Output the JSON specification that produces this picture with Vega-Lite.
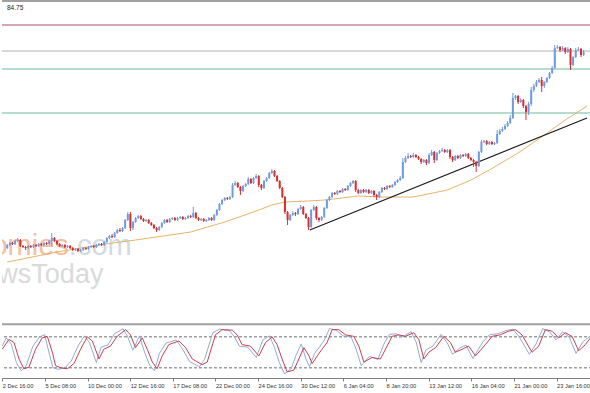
{
  "$schema": "https://vega.github.io/schema/vega-lite/v6.json",
  "padding": 0,
  "background": "white",
  "spacing": 3,
  "config": {"view": {"stroke": null}, "font": "Liberation Sans"},
  "datasets": {
    "bars": [
      {"i":0,"o":82,"h":86,"l":81,"c":85},{"i":1,"o":85,"h":88,"l":84,"c":87},{"i":2,"o":87,"h":88,"l":85,"c":86},{"i":3,"o":86,"h":90,"l":85,"c":89},{"i":4,"o":89,"h":92,"l":88,"c":90},{"i":5,"o":90,"h":91,"l":83,"c":84},{"i":6,"o":84,"h":85,"l":82,"c":83},{"i":7,"o":83,"h":84,"l":80,"c":82},{"i":8,"o":82,"h":85,"l":81,"c":84},{"i":9,"o":84,"h":85,"l":82,"c":83},
      {"i":10,"o":83,"h":86,"l":82,"c":85},{"i":11,"o":85,"h":86,"l":83,"c":84},{"i":12,"o":84,"h":87,"l":83,"c":86},{"i":13,"o":86,"h":87,"l":84,"c":85},{"i":14,"o":85,"h":88,"l":84,"c":87},{"i":15,"o":87,"h":88,"l":85,"c":86},{"i":16,"o":86,"h":90,"l":85,"c":89},{"i":17,"o":89,"h":97,"l":84,"c":92},{"i":18,"o":92,"h":93,"l":88,"c":89},{"i":19,"o":89,"h":90,"l":85,"c":86},
      {"i":20,"o":86,"h":87,"l":83,"c":84},{"i":21,"o":84,"h":86,"l":83,"c":85},{"i":22,"o":85,"h":86,"l":82,"c":83},{"i":23,"o":83,"h":85,"l":82,"c":84},{"i":24,"o":84,"h":85,"l":81,"c":82},{"i":25,"o":82,"h":83,"l":79,"c":80},{"i":26,"o":80,"h":82,"l":79,"c":81},{"i":27,"o":81,"h":82,"l":78,"c":79},{"i":28,"o":79,"h":81,"l":78,"c":80},{"i":29,"o":80,"h":83,"l":79,"c":82},
      {"i":30,"o":82,"h":83,"l":80,"c":81},{"i":31,"o":81,"h":84,"l":80,"c":83},{"i":32,"o":83,"h":85,"l":82,"c":84},{"i":33,"o":84,"h":85,"l":82,"c":83},{"i":34,"o":83,"h":86,"l":82,"c":85},{"i":35,"o":85,"h":87,"l":84,"c":86},{"i":36,"o":86,"h":87,"l":84,"c":85},{"i":37,"o":85,"h":89,"l":84,"c":88},{"i":38,"o":88,"h":93,"l":87,"c":92},{"i":39,"o":92,"h":95,"l":91,"c":94},
      {"i":40,"o":94,"h":96,"l":92,"c":93},{"i":41,"o":93,"h":98,"l":92,"c":97},{"i":42,"o":97,"h":101,"l":96,"c":100},{"i":43,"o":100,"h":102,"l":98,"c":99},{"i":44,"o":99,"h":103,"l":98,"c":102},{"i":45,"o":102,"h":111,"l":101,"c":110},{"i":46,"o":110,"h":118,"l":109,"c":116},{"i":47,"o":116,"h":118,"l":99,"c":102},{"i":48,"o":102,"h":109,"l":100,"c":108},{"i":49,"o":108,"h":113,"l":107,"c":112},
      {"i":50,"o":112,"h":115,"l":111,"c":114},{"i":51,"o":114,"h":115,"l":110,"c":111},{"i":52,"o":111,"h":112,"l":108,"c":109},{"i":53,"o":109,"h":111,"l":108,"c":110},{"i":54,"o":110,"h":111,"l":106,"c":107},{"i":55,"o":107,"h":108,"l":104,"c":105},{"i":56,"o":105,"h":106,"l":101,"c":102},{"i":57,"o":102,"h":103,"l":98,"c":100},{"i":58,"o":100,"h":104,"l":99,"c":103},{"i":59,"o":103,"h":108,"l":102,"c":107},
      {"i":60,"o":107,"h":111,"l":106,"c":110},{"i":61,"o":110,"h":111,"l":107,"c":108},{"i":62,"o":108,"h":112,"l":107,"c":111},{"i":63,"o":111,"h":113,"l":110,"c":112},{"i":64,"o":112,"h":113,"l":109,"c":110},{"i":65,"o":110,"h":113,"l":109,"c":112},{"i":66,"o":112,"h":114,"l":111,"c":113},{"i":67,"o":113,"h":114,"l":110,"c":111},{"i":68,"o":111,"h":113,"l":110,"c":112},{"i":69,"o":112,"h":115,"l":111,"c":114},
      {"i":70,"o":114,"h":115,"l":112,"c":113},{"i":71,"o":113,"h":123,"l":112,"c":117},{"i":72,"o":117,"h":118,"l":111,"c":112},{"i":73,"o":112,"h":113,"l":109,"c":110},{"i":74,"o":110,"h":112,"l":109,"c":111},{"i":75,"o":111,"h":112,"l":108,"c":109},{"i":76,"o":109,"h":111,"l":108,"c":110},{"i":77,"o":110,"h":113,"l":109,"c":112},{"i":78,"o":112,"h":113,"l":109,"c":110},{"i":79,"o":110,"h":116,"l":109,"c":115},
      {"i":80,"o":115,"h":121,"l":114,"c":120},{"i":81,"o":120,"h":127,"l":119,"c":126},{"i":82,"o":126,"h":131,"l":125,"c":130},{"i":83,"o":130,"h":133,"l":129,"c":132},{"i":84,"o":132,"h":133,"l":130,"c":131},{"i":85,"o":131,"h":134,"l":130,"c":133},{"i":86,"o":133,"h":147,"l":132,"c":145},{"i":87,"o":145,"h":149,"l":144,"c":147},{"i":88,"o":147,"h":148,"l":142,"c":143},{"i":89,"o":143,"h":144,"l":135,"c":139},
      {"i":90,"o":139,"h":145,"l":138,"c":144},{"i":91,"o":144,"h":147,"l":143,"c":146},{"i":92,"o":146,"h":153,"l":145,"c":151},{"i":93,"o":151,"h":152,"l":146,"c":147},{"i":94,"o":147,"h":153,"l":146,"c":152},{"i":95,"o":152,"h":156,"l":151,"c":154},{"i":96,"o":154,"h":155,"l":143,"c":145},{"i":97,"o":145,"h":146,"l":140,"c":142},{"i":98,"o":142,"h":150,"l":141,"c":149},{"i":99,"o":149,"h":153,"l":148,"c":152},
      {"i":100,"o":152,"h":158,"l":151,"c":157},{"i":101,"o":157,"h":161,"l":156,"c":159},{"i":102,"o":159,"h":160,"l":153,"c":154},{"i":103,"o":154,"h":155,"l":148,"c":149},{"i":104,"o":149,"h":150,"l":141,"c":142},{"i":105,"o":142,"h":143,"l":132,"c":133},{"i":106,"o":133,"h":134,"l":116,"c":118},{"i":107,"o":118,"h":119,"l":105,"c":110},{"i":108,"o":110,"h":116,"l":109,"c":115},{"i":109,"o":115,"h":119,"l":114,"c":117},
      {"i":110,"o":117,"h":118,"l":114,"c":116},{"i":111,"o":116,"h":122,"l":115,"c":121},{"i":112,"o":121,"h":125,"l":120,"c":123},{"i":113,"o":123,"h":124,"l":115,"c":116},{"i":114,"o":116,"h":117,"l":111,"c":112},{"i":115,"o":112,"h":113,"l":100,"c":103},{"i":116,"o":103,"h":121,"l":102,"c":120},{"i":117,"o":120,"h":125,"l":119,"c":123},{"i":118,"o":123,"h":124,"l":110,"c":112},{"i":119,"o":112,"h":113,"l":108,"c":110},
      {"i":120,"o":110,"h":114,"l":109,"c":113},{"i":121,"o":113,"h":123,"l":112,"c":122},{"i":122,"o":122,"h":131,"l":121,"c":130},{"i":123,"o":130,"h":134,"l":129,"c":133},{"i":124,"o":133,"h":138,"l":132,"c":137},{"i":125,"o":137,"h":138,"l":135,"c":136},{"i":126,"o":136,"h":140,"l":135,"c":139},{"i":127,"o":139,"h":140,"l":137,"c":138},{"i":128,"o":138,"h":142,"l":137,"c":141},{"i":129,"o":141,"h":142,"l":139,"c":140},
      {"i":130,"o":140,"h":145,"l":139,"c":144},{"i":131,"o":144,"h":148,"l":143,"c":147},{"i":132,"o":147,"h":150,"l":146,"c":149},{"i":133,"o":149,"h":150,"l":138,"c":140},{"i":134,"o":140,"h":141,"l":136,"c":137},{"i":135,"o":137,"h":141,"l":136,"c":140},{"i":136,"o":140,"h":141,"l":137,"c":138},{"i":137,"o":138,"h":141,"l":137,"c":140},{"i":138,"o":140,"h":141,"l":136,"c":137},{"i":139,"o":137,"h":140,"l":136,"c":139},
      {"i":140,"o":139,"h":140,"l":133,"c":135},{"i":141,"o":135,"h":136,"l":130,"c":133},{"i":142,"o":133,"h":139,"l":132,"c":138},{"i":143,"o":138,"h":143,"l":137,"c":142},{"i":144,"o":142,"h":143,"l":140,"c":141},{"i":145,"o":141,"h":145,"l":140,"c":144},{"i":146,"o":144,"h":145,"l":142,"c":143},{"i":147,"o":143,"h":146,"l":142,"c":145},{"i":148,"o":145,"h":149,"l":144,"c":148},{"i":149,"o":148,"h":151,"l":147,"c":150},
      {"i":150,"o":150,"h":154,"l":149,"c":152},{"i":151,"o":152,"h":172,"l":151,"c":168},{"i":152,"o":168,"h":174,"l":167,"c":172},{"i":153,"o":172,"h":177,"l":171,"c":174},{"i":154,"o":174,"h":175,"l":172,"c":173},{"i":155,"o":173,"h":177,"l":172,"c":175},{"i":156,"o":175,"h":176,"l":172,"c":173},{"i":157,"o":173,"h":174,"l":170,"c":171},{"i":158,"o":171,"h":172,"l":166,"c":168},{"i":159,"o":168,"h":171,"l":167,"c":170},
      {"i":160,"o":170,"h":171,"l":165,"c":167},{"i":161,"o":167,"h":177,"l":166,"c":175},{"i":162,"o":175,"h":180,"l":174,"c":178},{"i":163,"o":178,"h":179,"l":167,"c":170},{"i":164,"o":170,"h":178,"l":169,"c":177},{"i":165,"o":177,"h":180,"l":176,"c":179},{"i":166,"o":179,"h":182,"l":178,"c":180},{"i":167,"o":180,"h":181,"l":177,"c":178},{"i":168,"o":178,"h":181,"l":177,"c":180},{"i":169,"o":180,"h":181,"l":171,"c":173},
      {"i":170,"o":173,"h":174,"l":168,"c":170},{"i":171,"o":170,"h":175,"l":169,"c":174},{"i":172,"o":174,"h":175,"l":171,"c":172},{"i":173,"o":172,"h":176,"l":171,"c":175},{"i":174,"o":175,"h":176,"l":173,"c":174},{"i":175,"o":174,"h":177,"l":173,"c":176},{"i":176,"o":176,"h":177,"l":171,"c":172},{"i":177,"o":172,"h":173,"l":169,"c":170},{"i":178,"o":170,"h":171,"l":163,"c":168},{"i":179,"o":168,"h":169,"l":158,"c":164},
      {"i":180,"o":164,"h":179,"l":163,"c":178},{"i":181,"o":178,"h":190,"l":177,"c":188},{"i":182,"o":188,"h":190,"l":187,"c":189},{"i":183,"o":189,"h":190,"l":185,"c":186},{"i":184,"o":186,"h":189,"l":185,"c":188},{"i":185,"o":188,"h":189,"l":185,"c":186},{"i":186,"o":186,"h":188,"l":185,"c":187},{"i":187,"o":187,"h":200,"l":186,"c":196},{"i":188,"o":196,"h":201,"l":195,"c":199},{"i":189,"o":199,"h":203,"l":198,"c":201},
      {"i":190,"o":201,"h":206,"l":200,"c":204},{"i":191,"o":204,"h":209,"l":203,"c":207},{"i":192,"o":207,"h":215,"l":206,"c":212},{"i":193,"o":212,"h":237,"l":211,"c":232},{"i":194,"o":232,"h":235,"l":230,"c":234},{"i":195,"o":234,"h":235,"l":226,"c":228},{"i":196,"o":228,"h":232,"l":227,"c":230},{"i":197,"o":230,"h":231,"l":222,"c":224},{"i":198,"o":224,"h":225,"l":210,"c":218},{"i":199,"o":218,"h":228,"l":215,"c":226},
      {"i":200,"o":226,"h":243,"l":224,"c":240},{"i":201,"o":240,"h":246,"l":238,"c":244},{"i":202,"o":244,"h":250,"l":243,"c":248},{"i":203,"o":248,"h":252,"l":247,"c":250},{"i":204,"o":250,"h":253,"l":238,"c":244},{"i":205,"o":244,"h":249,"l":242,"c":248},{"i":206,"o":248,"h":253,"l":247,"c":252},{"i":207,"o":252,"h":258,"l":251,"c":257},{"i":208,"o":257,"h":264,"l":256,"c":262},{"i":209,"o":262,"h":285,"l":261,"c":282},
      {"i":210,"o":282,"h":285,"l":281,"c":283},{"i":211,"o":283,"h":284,"l":278,"c":280},{"i":212,"o":280,"h":284,"l":279,"c":282},{"i":213,"o":282,"h":283,"l":276,"c":278},{"i":214,"o":278,"h":283,"l":277,"c":281},{"i":215,"o":281,"h":282,"l":260,"c":265},{"i":216,"o":265,"h":274,"l":264,"c":273},{"i":217,"o":273,"h":282,"l":272,"c":280},{"i":218,"o":280,"h":283,"l":279,"c":281},{"i":219,"o":281,"h":282,"l":273,"c":275},
      {"i":220,"o":275,"h":280,"l":274,"c":278}
    ],
    "ma": [
      {"i":0,"m":68},{"i":19,"m":78},{"i":37.5,"m":86},{"i":49,"m":90},{"i":57,"m":93},{"i":70,"m":98},{"i":83,"m":108},{"i":94,"m":118},{"i":101,"m":125},{"i":106,"m":128},{"i":115,"m":129},{"i":121,"m":130},{"i":128,"m":132},{"i":134,"m":134},{"i":143,"m":133},{"i":155,"m":133},{"i":168,"m":140},{"i":177,"m":150},{"i":184,"m":160},{"i":195,"m":177},{"i":205,"m":195},{"i":213,"m":210},{"i":219,"m":220},{"i":221.3,"m":224}
    ],
    "trend": [{"i":115.5,"p":100},{"i":221.3,"p":212}],
    "hlines": [{"p":329,"kind":"frame"},{"p":305,"kind":"r1"},{"p":279,"kind":"bid"},{"p":261,"kind":"s1"},{"p":217,"kind":"s2"}],
    "stochD": [
      {"i":0,"v":56},{"i":2.5,"v":75},{"i":4.4,"v":69},{"i":6.3,"v":37},{"i":8.1,"v":18},{"i":10,"v":21},{"i":12.5,"v":56},{"i":15,"v":78},{"i":16.9,"v":81},{"i":18.8,"v":50},{"i":20,"v":24},{"i":21.9,"v":20},{"i":24.4,"v":18},{"i":26.9,"v":28},{"i":29.4,"v":56},{"i":31.9,"v":80},{"i":33.8,"v":72},{"i":36.3,"v":37},{"i":38.1,"v":56},{"i":40.6,"v":62},{"i":43.1,"v":81},{"i":46.3,"v":94},{"i":48.1,"v":84},{"i":50,"v":59},{"i":52.5,"v":78},{"i":54.4,"v":56},{"i":56.3,"v":31},{"i":58.1,"v":18},{"i":60,"v":43},{"i":62.5,"v":65},{"i":66.3,"v":72},{"i":68.8,"v":59},{"i":71.3,"v":37},{"i":75,"v":26},{"i":76.9,"v":31},{"i":80,"v":84},{"i":82.5,"v":94},{"i":86.3,"v":93},{"i":88.1,"v":84},{"i":90,"v":65},{"i":93.1,"v":62},{"i":96.3,"v":43},{"i":98.8,"v":69},{"i":101.3,"v":80},{"i":103.1,"v":65},{"i":105,"v":37},{"i":106.9,"v":12},{"i":109.4,"v":15},{"i":111.3,"v":37},{"i":113.2,"v":59},{"i":115.1,"v":43},{"i":116.3,"v":28},{"i":118.2,"v":43},{"i":120,"v":56},{"i":121.9,"v":69},{"i":123.8,"v":94},{"i":126.3,"v":94},{"i":128.8,"v":84},{"i":131.9,"v":81},{"i":133.8,"v":62},{"i":135.7,"v":31},{"i":138.8,"v":40},{"i":141.9,"v":37},{"i":144.4,"v":62},{"i":146.3,"v":81},{"i":148.8,"v":84},{"i":151.3,"v":81},{"i":154.4,"v":88},{"i":156.3,"v":75},{"i":158.2,"v":37},{"i":160,"v":50},{"i":162.6,"v":59},{"i":165.7,"v":81},{"i":168.2,"v":69},{"i":170,"v":50},{"i":172.6,"v":56},{"i":175,"v":62},{"i":177.6,"v":43},{"i":181.3,"v":65},{"i":183.8,"v":81},{"i":186.9,"v":84},{"i":190,"v":91},{"i":192.6,"v":94},{"i":195,"v":84},{"i":198.8,"v":50},{"i":201.3,"v":62},{"i":203.8,"v":94},{"i":206.3,"v":91},{"i":208.8,"v":78},{"i":211.3,"v":88},{"i":213.8,"v":81},{"i":216.3,"v":53},{"i":218.8,"v":65},{"i":220.7,"v":78}
    ],
    "stochK": [
      {"i":0,"v":62},{"i":1.5,"v":78},{"i":3.4,"v":66},{"i":5.3,"v":30},{"i":7.1,"v":14},{"i":9,"v":24},{"i":11.5,"v":62},{"i":14,"v":80},{"i":15.9,"v":84},{"i":17.8,"v":44},{"i":19,"v":20},{"i":20.9,"v":17},{"i":23.4,"v":19},{"i":25.9,"v":33},{"i":28.4,"v":62},{"i":30.9,"v":82},{"i":32.8,"v":68},{"i":35.3,"v":30},{"i":37.1,"v":60},{"i":39.6,"v":64},{"i":42.1,"v":86},{"i":45.3,"v":96},{"i":47.1,"v":80},{"i":49,"v":54},{"i":51.5,"v":82},{"i":53.4,"v":50},{"i":55.3,"v":25},{"i":57.1,"v":14},{"i":59,"v":48},{"i":61.5,"v":68},{"i":65.3,"v":74},{"i":67.8,"v":55},{"i":70.3,"v":32},{"i":74,"v":22},{"i":75.9,"v":36},{"i":79,"v":88},{"i":81.5,"v":95},{"i":85.3,"v":92},{"i":87.1,"v":80},{"i":89,"v":62},{"i":92.1,"v":60},{"i":95.3,"v":40},{"i":97.8,"v":74},{"i":100.3,"v":82},{"i":102.1,"v":60},{"i":104,"v":30},{"i":105.9,"v":8},{"i":108.4,"v":18},{"i":110.3,"v":45},{"i":112.2,"v":66},{"i":114.1,"v":35},{"i":115.3,"v":22},{"i":117.2,"v":48},{"i":119,"v":60},{"i":120.9,"v":74},{"i":122.8,"v":96},{"i":125.3,"v":93},{"i":127.8,"v":82},{"i":130.9,"v":80},{"i":132.8,"v":56},{"i":134.7,"v":24},{"i":137.8,"v":42},{"i":140.9,"v":36},{"i":143.4,"v":68},{"i":145.3,"v":85},{"i":147.8,"v":86},{"i":150.3,"v":80},{"i":153.4,"v":90},{"i":155.3,"v":70},{"i":157.2,"v":30},{"i":159,"v":55},{"i":161.6,"v":62},{"i":164.7,"v":85},{"i":167.2,"v":66},{"i":169,"v":46},{"i":171.6,"v":58},{"i":174,"v":64},{"i":176.6,"v":38},{"i":180.3,"v":70},{"i":182.8,"v":84},{"i":185.9,"v":86},{"i":189,"v":92},{"i":191.6,"v":95},{"i":194,"v":80},{"i":197.8,"v":46},{"i":200.3,"v":66},{"i":202.8,"v":96},{"i":205.3,"v":90},{"i":207.8,"v":74},{"i":210.3,"v":90},{"i":212.8,"v":79},{"i":215.3,"v":48},{"i":217.8,"v":70},{"i":220.7,"v":82}
    ],
    "levels": [{"v":104.5,"kind":"frame"},{"v":80,"kind":"lvl"},{"v":20,"kind":"lvl"}],
    "labels": [{"t":"84.75","i":-0.1,"p":322}],
    "wm": [{"t":"Economies","i":23.5,"p":75,"k":"a"},{"t":".com","i":23.5,"p":75,"k":"b"},{"t":"NewsToday","i":36.7,"p":47,"k":"c"}]
  },
  "vconcat": [
    {
      "width": 590,
      "height": 320,
      "encoding": {
        "x": {"field":"i","type":"quantitative","scale":{"domain":[-0.1,221.3],"nice":false,"zero":false},"axis":null}
      },
      "layer": [
        {
          "data": {"name": "hlines"},
          "mark": {"type":"rule"},
          "encoding": {
            "x": null,
            "y": {"field":"p","type":"quantitative","scale":{"domain":[10,330],"nice":false,"zero":false},"axis":null},
            "color": {"field":"kind","type":"nominal","scale":{"domain":["frame","r1","bid","s1","s2"],"range":["#a0a0a0","#cfaab4","#d8d8d8","#9ed0c0","#9ed0c0"]},"legend":null},
            "strokeWidth": {"field":"kind","type":"nominal","scale":{"domain":["frame","r1","bid","s1","s2"],"range":[2,1.5,1.5,1.5,1.5]},"legend":null}
          }
        },
        {
          "data": {"name": "wm"},
          "transform": [{"filter": "datum.k == 'a'"}],
          "mark": {"type":"text","align":"right","baseline":"alphabetic","fontSize":29,"color":"#f6bea2","clip":true},
          "encoding": {"y": {"field":"p","type":"quantitative"}, "text": {"field":"t"}}
        },
        {
          "data": {"name": "wm"},
          "transform": [{"filter": "datum.k == 'b'"}],
          "mark": {"type":"text","align":"left","baseline":"alphabetic","fontSize":29,"color":"#d3dae4","clip":true},
          "encoding": {"y": {"field":"p","type":"quantitative"}, "text": {"field":"t"}}
        },
        {
          "data": {"name": "wm"},
          "transform": [{"filter": "datum.k == 'c'"}],
          "mark": {"type":"text","align":"right","baseline":"alphabetic","fontSize":27,"color":"#dadada","clip":true},
          "encoding": {"y": {"field":"p","type":"quantitative"}, "text": {"field":"t"}}
        },
        {
          "data": {"name": "ma"},
          "mark": {"type":"line","color":"#e8b46a","strokeWidth":1},
          "encoding": {"y": {"field":"m","type":"quantitative"}}
        },
        {
          "data": {"name": "trend"},
          "mark": {"type":"line","color":"#1a1a1a","strokeWidth":1.2},
          "encoding": {"y": {"field":"p","type":"quantitative"}}
        },
        {
          "data": {"name": "bars"},
          "mark": {"type":"rule","strokeWidth":1},
          "encoding": {
            "y": {"field":"l","type":"quantitative"},
            "y2": {"field":"h"},
            "color": {"condition":{"test":"datum.c >= datum.o","value":"#6f9be0"},"value":"#dd2c2c"}
          }
        },
        {
          "data": {"name": "bars"},
          "mark": {"type":"bar","size":2},
          "encoding": {
            "y": {"field":"o","type":"quantitative"},
            "y2": {"field":"c"},
            "color": {"condition":{"test":"datum.c >= datum.o","value":"#6f9be0"},"value":"#dd2c2c"}
          }
        },
        {
          "data": {"name": "labels"},
          "mark": {"type":"text","align":"left","baseline":"middle","fontSize":6.5,"color":"#222"},
          "encoding": {"y":{"field":"p","type":"quantitative"},"text":{"field":"t"}}
        }
      ]
    },
    {
      "width": 590,
      "height": 54,
      "encoding": {
        "x": {"field":"i","type":"quantitative","scale":{"domain":[-0.1,221.3],"nice":false,"zero":false},
          "axis": {"values":[0,16,32,48,64,80,96,112,128,144,160,176,192,208],
            "labelExpr":"['2 Dec 16:00','5 Dec 08:00','10 Dec 00:00','12 Dec 16:00','17 Dec 08:00','22 Dec 00:00','24 Dec 16:00','30 Dec 12:00','6 Jan 04:00','8 Jan 20:00','13 Jan 12:00','16 Jan 04:00','21 Jan 00:00','23 Jan 16:00'][round(datum.value/16)]",
            "labelAlign":"left","labelFontSize":5.7,"labelFont":"Liberation Sans","labelColor":"#333","labelPadding":1,"labelFlush":false,"labelOverlap":false,
            "tickSize":3,"tickColor":"#808080","domainColor":"#808080","grid":false,"title":null}}
      },
      "layer": [
        {
          "data": {"name": "levels"},
          "mark": {"type":"rule"},
          "encoding": {
            "x": null,
            "y": {"field":"v","type":"quantitative","scale":{"domain":[0,105],"nice":false,"zero":false},"axis":null},
            "color": {"field":"kind","type":"nominal","scale":{"domain":["frame","lvl"],"range":["#909090","#c4c4c4"]},"legend":null},
            "strokeWidth": {"field":"kind","type":"nominal","scale":{"domain":["frame","lvl"],"range":[2,1]},"legend":null},
            "strokeDash": {"field":"kind","type":"nominal","scale":{"domain":["frame","lvl"],"range":[[1,0],[3,2]]},"legend":null}
          }
        },
        {
          "data": {"name": "stochK"},
          "mark": {"type":"line","color":"#93acd0","strokeWidth":1},
          "encoding": {"y": {"field":"v","type":"quantitative"}}
        },
        {
          "data": {"name": "stochD"},
          "mark": {"type":"line","color":"#c8404e","strokeWidth":1},
          "encoding": {"y": {"field":"v","type":"quantitative"}}
        }
      ]
    }
  ]
}
